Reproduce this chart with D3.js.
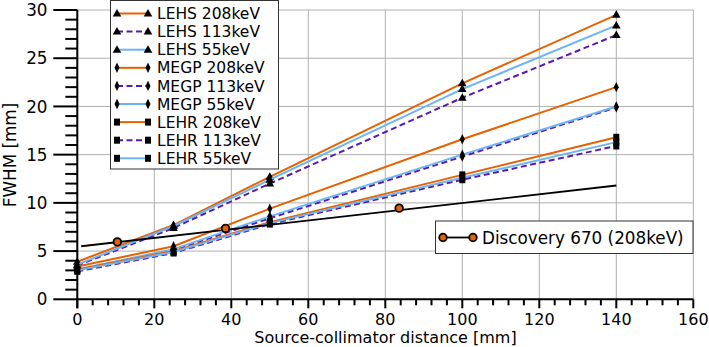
<!DOCTYPE html>
<html><head><meta charset="utf-8">
<script src="https://cdn.jsdelivr.net/npm/d3@7"></script>
<style>html,body{margin:0;padding:0;background:#fff;}svg{display:block;}</style>
</head><body><div id="chart"></div>
<script>
const distances = [0, 25, 50, 100, 140];
const lehs208 = [3.9, 7.7, 12.7, 22.4, 29.5];
const lehs113 = [3.5, 7.4, 12.0, 20.9, 27.4];
const lehs55  = [3.6, 7.6, 12.4, 21.8, 28.4];
const megp208 = [3.4, 5.5, 9.4, 16.6, 22.0];
const megp113 = [3.0, 5.1, 8.4, 14.8, 19.9];
const megp55  = [3.1, 5.2, 8.6, 15.0, 20.0];
const lehr208 = [3.1, 5.0, 8.0, 12.9, 16.8];
const lehr113 = [2.9, 4.8, 7.8, 12.4, 15.9];
const lehr55  = [3.0, 4.9, 7.9, 12.6, 16.3];
const discX = [10.4, 38.5, 83.6];
const discY = [5.95, 7.35, 9.45];
const discFitX = [1, 140];
const discFitY = [5.5, 11.8];
const xTicks = [0, 20, 40, 60, 80, 100, 120, 140, 160];
const yTicks = [0, 5, 10, 15, 20, 25, 30];

const ORANGE = "#e66100", PURPLE = "#5a1ab0", BLUE = "#6cb4f4";
const series = [
  {name: "LEHS 208keV", y: lehs208, color: ORANGE, dash: null, marker: "tri"},
  {name: "LEHS 113keV", y: lehs113, color: PURPLE, dash: "6,3.5", marker: "tri"},
  {name: "LEHS 55keV",  y: lehs55,  color: BLUE,   dash: null, marker: "tri"},
  {name: "MEGP 208keV", y: megp208, color: ORANGE, dash: null, marker: "dia"},
  {name: "MEGP 113keV", y: megp113, color: PURPLE, dash: "6,3.5", marker: "dia"},
  {name: "MEGP 55keV",  y: megp55,  color: BLUE,   dash: null, marker: "dia"},
  {name: "LEHR 208keV", y: lehr208, color: ORANGE, dash: null, marker: "sq"},
  {name: "LEHR 113keV", y: lehr113, color: PURPLE, dash: "6,3.5", marker: "sq"},
  {name: "LEHR 55keV",  y: lehr55,  color: BLUE,   dash: null, marker: "sq"}
];

const W = 709, H = 347;
const m = {left: 77.3, right: 693.3, top: 10, bottom: 299.3};
const x = d3.scaleLinear().domain([0, 160]).range([m.left, m.right]);
const y = d3.scaleLinear().domain([0, 30]).range([m.bottom, m.top]);
const FONT = "'DejaVu Sans', sans-serif";
const FS = 16.8;
const FS_X = 16;
const FS_LEG = 15.5;

const svg = d3.select("#chart").append("svg").attr("width", W).attr("height", H)
  .style("font-family", FONT);

// grid
const grid = svg.append("g").attr("stroke", "#b0b0b0").attr("stroke-width", 1);
grid.selectAll("line.v").data(xTicks.slice(1)).join("line")
  .attr("x1", d => x(d)).attr("x2", d => x(d)).attr("y1", m.top).attr("y2", m.bottom);
grid.selectAll("line.h").data(yTicks.slice(1)).join("line")
  .attr("y1", d => y(d)).attr("y2", d => y(d)).attr("x1", m.left).attr("x2", m.right);

function markerPath(type) {
  if (type === "tri") return "M0,-4.5L4.3,3L-4.3,3Z";
  if (type === "dia") return "M0,-5.2L2.5,0L0,5.2L-2.5,0Z";
  if (type === "sq") return "M-3,-3.5L3,-3.5L3,3.5L-3,3.5Z";
}

const line = d3.line().x(d => x(d[0])).y(d => y(d[1]));

const plot = svg.append("g");
series.forEach(s => {
  const pts = distances.map((d, i) => [d, s.y[i]]);
  plot.append("path").datum(pts).attr("d", line)
    .attr("fill", "none").attr("stroke", s.color).attr("stroke-width", 2)
    .attr("stroke-dasharray", s.dash);
  plot.selectAll(null).data(pts).join("path")
    .attr("d", markerPath(s.marker))
    .attr("transform", d => `translate(${x(d[0])},${y(d[1])})`)
    .attr("fill", "#000");
});

// discovery fit & points
plot.append("path").datum(discFitX.map((d, i) => [d, discFitY[i]])).attr("d", line)
  .attr("fill", "none").attr("stroke", "#000").attr("stroke-width", 1.8);
plot.selectAll("circle.disc").data(discX.map((d, i) => [d, discY[i]])).join("circle")
  .attr("cx", d => x(d[0])).attr("cy", d => y(d[1])).attr("r", 3.8)
  .attr("fill", ORANGE).attr("stroke", "#000").attr("stroke-width", 1.8);

// axes
const ax = svg.append("g").attr("stroke", "#000");
ax.append("line").attr("x1", m.left).attr("x2", m.left).attr("y1", m.top).attr("y2", m.bottom + 9)
  .attr("stroke-width", 2);
ax.append("line").attr("x1", m.left - 1).attr("x2", m.right).attr("y1", m.bottom).attr("y2", m.bottom)
  .attr("stroke-width", 2);
const yMinor = d3.range(0, 31, 1).filter(v => v % 5 !== 0);
ax.selectAll("line.ym").data(yMinor).join("line")
  .attr("x1", m.left - 12).attr("x2", m.left).attr("y1", d => y(d)).attr("y2", d => y(d)).attr("stroke-width", 2);
ax.selectAll("line.yM").data(yTicks).join("line")
  .attr("x1", m.left - 24).attr("x2", m.left).attr("y1", d => y(d)).attr("y2", d => y(d)).attr("stroke-width", 2);
const xMinor = d3.range(0, 161, 4).filter(v => v % 20 !== 0);
ax.selectAll("line.xm").data(xMinor).join("line")
  .attr("x1", d => x(d)).attr("x2", d => x(d)).attr("y1", m.bottom).attr("y2", m.bottom + 6).attr("stroke-width", 2);
ax.selectAll("line.xM").data(xTicks).join("line")
  .attr("x1", d => x(d)).attr("x2", d => x(d)).attr("y1", m.bottom).attr("y2", m.bottom + 9).attr("stroke-width", 2);

svg.append("g").selectAll("text").data(yTicks).join("text")
  .attr("x", 47.5).attr("y", d => y(d)).attr("dy", "0.365em").attr("text-anchor", "end")
  .attr("font-size", FS).text(d => d);
svg.append("g").selectAll("text").data(xTicks).join("text")
  .attr("x", d => x(d)).attr("y", 324.5).attr("text-anchor", "middle")
  .attr("font-size", FS_X).text(d => d);

svg.append("text").attr("x", 385.5).attr("y", 343.2).attr("text-anchor", "middle")
  .attr("font-size", FS_X).text("Source-collimator distance [mm]");
svg.append("text").attr("transform", `translate(16,155) rotate(-90)`)
  .attr("text-anchor", "middle").attr("font-size", FS).text("FWHM [mm]");

// legend 1
const lg = svg.append("g");
const rowH = 18.1;
lg.append("rect").attr("x", 110.5).attr("y", 0.5).attr("width", 168).attr("height", 168.5)
  .attr("fill", "#fff").attr("stroke", "#333").attr("stroke-width", 1);
series.forEach((s, i) => {
  const cy = 13.5 + i * rowH;
  lg.append("line").attr("x1", 117).attr("x2", 148).attr("y1", cy).attr("y2", cy)
    .attr("stroke", s.color).attr("stroke-width", 2).attr("stroke-dasharray", s.dash);
  [117, 148].forEach(px => lg.append("path").attr("d", markerPath(s.marker))
    .attr("transform", `translate(${px},${cy})`).attr("fill", "#000"));
  lg.append("text").attr("x", 157).attr("y", cy).attr("dy", "0.365em")
    .attr("font-size", FS_LEG).text(s.name);
});

// legend 2
const lg2 = svg.append("g");
lg2.append("rect").attr("x", 435.5).attr("y", 221).attr("width", 257.5).attr("height", 32.5)
  .attr("fill", "#fff").attr("stroke", "#333").attr("stroke-width", 1);
lg2.append("line").attr("x1", 443).attr("x2", 473).attr("y1", 237.5).attr("y2", 237.5)
  .attr("stroke", "#000").attr("stroke-width", 1.8);
[443, 473].forEach(px => lg2.append("circle").attr("cx", px).attr("cy", 237.5).attr("r", 3.8)
  .attr("fill", ORANGE).attr("stroke", "#000").attr("stroke-width", 1.8));
lg2.append("text").attr("x", 482).attr("y", 237.5).attr("dy", "0.365em").attr("font-size", FS)
  .text("Discovery 670 (208keV)");
</script></body></html>
